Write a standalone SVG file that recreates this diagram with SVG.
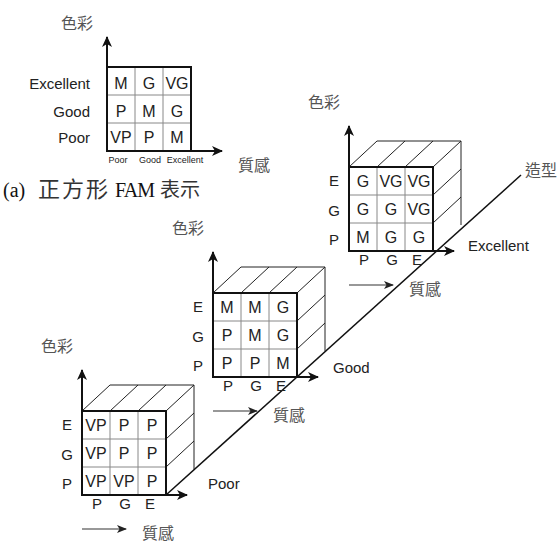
<svg xmlns="http://www.w3.org/2000/svg" width="559" height="542" viewBox="0 0 559 542">
<style>
.lat{font-family:"Liberation Sans","Open Sans",sans-serif;fill:#222;}
.cell{font-size:16px;text-anchor:middle;}
.lbl{font-size:15px;text-anchor:middle;}
.cjk{font-family:"Noto Sans CJK TC","Noto Sans CJK SC",sans-serif;fill:#555;font-size:16px;}
.grid{stroke:#888;stroke-width:1;fill:none;}
.frame{stroke:#111;stroke-width:2;fill:none;}
.face{stroke:#222;stroke-width:1;fill:none;}
.axis{stroke:#111;stroke-width:2;fill:none;}
.thin{stroke:#333;stroke-width:1.2;fill:none;}
</style>
<defs>
<marker id="ah" markerUnits="userSpaceOnUse" markerWidth="12" markerHeight="12" refX="10" refY="6" orient="auto">
<path d="M0,1 L11,6 L0,11 L3,6 z" fill="#111"/>
</marker>
<marker id="ahs" markerUnits="userSpaceOnUse" markerWidth="10" markerHeight="10" refX="9" refY="5" orient="auto">
<path d="M0,1 L10,5 L0,9 L2.5,5 z" fill="#222"/>
</marker>
<g id="cubeShape">
<path class="face" d="M0,0 L28,-26 M28,0 L56,-26 M56,0 L84,-26 M84,0 L112,-26 M28,-26 L112,-26 M84,28 L112,2 M84,56 L112,30 M112,-26 L112,58"/>
<path class="grid" d="M28,0 V84 M56,0 V84 M0,28 H84 M0,56 H84"/>
<rect class="frame" x="0" y="0" width="84" height="84"/>
<line class="axis" x1="0" y1="84" x2="0" y2="-41" marker-end="url(#ah)"/>
<line class="axis" x1="0" y1="84" x2="105" y2="84" marker-end="url(#ah)"/>
<g class="lat lbl">
<text x="-15" y="19">E</text><text x="-15" y="49">G</text><text x="-15" y="78">P</text>
<text x="15" y="98">P</text><text x="43" y="98">G</text><text x="68" y="98">E</text>
</g>
<text class="cjk" x="-41" y="-59" font-size="16">色彩</text>
<line class="thin" x1="0" y1="118" x2="44" y2="118" marker-end="url(#ahs)"/>
<text class="cjk" x="60" y="128">質感</text>
</g>
</defs>

<g id="connectors">
<line x1="166" y1="495" x2="521" y2="175" stroke="#111" stroke-width="1.5"/>
</g>

<g id="fam2d">
<path class="grid" d="M135,67 V151 M163,67 V151 M107,95 H191 M107,123 H191"/>
<rect class="frame" x="107" y="67" width="84" height="84"/>
<line class="axis" x1="107" y1="151" x2="107" y2="37" marker-end="url(#ah)"/>
<line class="axis" x1="107" y1="151" x2="222" y2="151" marker-end="url(#ah)"/>
<g class="lat cell">
<text x="121" y="89">M</text><text x="149" y="89">G</text><text x="177" y="89">VG</text>
<text x="121" y="117">P</text><text x="149" y="117">M</text><text x="177" y="117">G</text>
<text x="121" y="143">VP</text><text x="149" y="143">P</text><text x="177" y="143">M</text>
</g>
<g class="lat" font-size="15" text-anchor="end">
<text x="90" y="89">Excellent</text><text x="90" y="117">Good</text><text x="90" y="143">Poor</text>
</g>
<g class="lat" font-size="9" text-anchor="middle">
<text x="118" y="163">Poor</text><text x="150" y="163">Good</text><text x="185" y="163">Excellent</text>
</g>
<text class="cjk" x="61" y="29" font-size="17">色彩</text>
<text class="cjk" x="238" y="171" font-size="17">質感</text>
<g font-size="20" fill="#111">
<text x="3" y="197" font-family="Liberation Serif,serif">(a)</text>
<text x="38" y="197" font-family="Noto Sans CJK TC,sans-serif" font-size="22" textLength="70" fill="#333">正方形</text>
<text x="115" y="197" font-family="Liberation Serif,serif" textLength="40">FAM</text>
<text x="160" y="197" font-family="Noto Sans CJK TC,sans-serif" textLength="40" fill="#333">表示</text>
</g>
</g>

<g id="cubePoor">
<use href="#cubeShape" x="82" y="411"/>
<g class="lat cell" transform="translate(82,411)">
<text x="14" y="20">VP</text><text x="42" y="20">P</text><text x="70" y="20">P</text>
<text x="14" y="48">VP</text><text x="42" y="48">P</text><text x="70" y="48">P</text>
<text x="14" y="76">VP</text><text x="42" y="76">VP</text><text x="70" y="76">P</text>
</g>
<text class="lat" x="208" y="489" font-size="15">Poor</text>
</g>

<g id="cubeGood">
<use href="#cubeShape" x="213" y="293"/>
<g class="lat cell" transform="translate(213,293)">
<text x="14" y="20">M</text><text x="42" y="20">M</text><text x="70" y="20">G</text>
<text x="14" y="48">P</text><text x="42" y="48">M</text><text x="70" y="48">G</text>
<text x="14" y="76">P</text><text x="42" y="76">P</text><text x="70" y="76">M</text>
</g>
<text class="lat" x="333" y="373" font-size="15">Good</text>
</g>

<g id="cubeExcellent">
<use href="#cubeShape" x="349" y="167"/>
<g class="lat cell" transform="translate(349,167)">
<text x="14" y="20">G</text><text x="42" y="20">VG</text><text x="70" y="20">VG</text>
<text x="14" y="48">G</text><text x="42" y="48">G</text><text x="70" y="48">VG</text>
<text x="14" y="76">M</text><text x="42" y="76">G</text><text x="70" y="76">G</text>
</g>
<text class="lat" x="468" y="251" font-size="15">Excellent</text>
</g>

<g id="axisLabel">
<text class="cjk" x="525" y="176" font-size="17">造型</text>
</g>
</svg>
